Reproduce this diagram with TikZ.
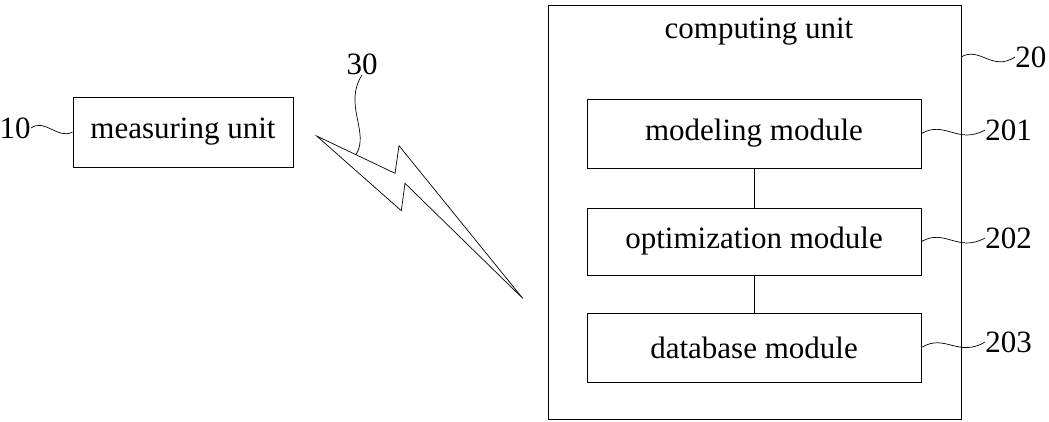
\documentclass[tikz,border=0pt]{standalone}
\usepackage{fontspec}
\setmainfont{Liberation Serif}
\begin{document}
\begin{tikzpicture}[x=1pt,y=-1pt,
  line width=0.9pt,
  txt/.style={font=\fontsize{31}{36}\selectfont, inner sep=0pt},
  box/.style={draw, txt, rectangle, minimum width=#1},
  lbl/.style={txt, anchor=west}]
\useasboundingbox (0,0) rectangle (1049,421);
% measuring unit
\node[box=220, minimum height=70] (mu) at (183,132) {measuring unit};
\node[lbl, anchor=east] (l10) at (31,128) {10};
\draw[line width=0.7pt] (l10.east) .. controls (45,118) and (58,140) .. (mu.west);
% computing unit
\node[draw, minimum width=413, minimum height=414, inner sep=0pt] (cu) at (754.5,212) {};
\node[txt] (cut) at (759,32) {computing unit};
\node[box=334, minimum height=69] (mod) at (754,133.5) {modeling module};
\node[box=334, minimum height=67] (opt) at (754,241.5) {optimization module};
\node[box=334, minimum height=69] (db) at (754,347.5) {database module};
\draw[line width=0.6pt] (mod.south) -- (opt.north);
\draw[line width=0.6pt] (opt.south) -- (db.north);
% labels right
\node[lbl] (l20) at (1015,57) {20};
\node[lbl] (l201) at (985,130) {201};
\node[lbl] (l202) at (985,238) {202};
\node[lbl] (l203) at (985,342) {203};
\coordinate (s20) at (961,57);
\draw[line width=0.7pt] (s20) .. controls (980,46) and (992,72) .. (l20.west);
\draw[line width=0.7pt] (mod.east) .. controls (945,120) and (958,145) .. (l201.west);
\draw[line width=0.7pt] (opt.east) .. controls (945,228) and (958,253) .. (l202.west);
\draw[line width=0.7pt] (db.east) .. controls (945,333) and (958,358) .. (l203.west);
% lightning
\coordinate (z1) at (316.7,136);
\coordinate (z2) at (395,173.3);
\coordinate (z3) at (399,145.7);
\coordinate (z4) at (522.7,298.3);
\coordinate (z5) at (405,183.3);
\coordinate (z6) at (401.3,210.7);
\draw[line width=0.7pt, line join=miter] (z1) -- (z2) -- (z3) -- (z4) -- (z5) -- (z6) -- cycle;
\node[lbl, anchor=center] (l30) at (362,64) {30};
\coordinate (t30) at (356,154.7);
\draw[line width=0.7pt] (l30.south) .. controls (343,105) and (370,132) .. (t30);
\end{tikzpicture}
\end{document}
